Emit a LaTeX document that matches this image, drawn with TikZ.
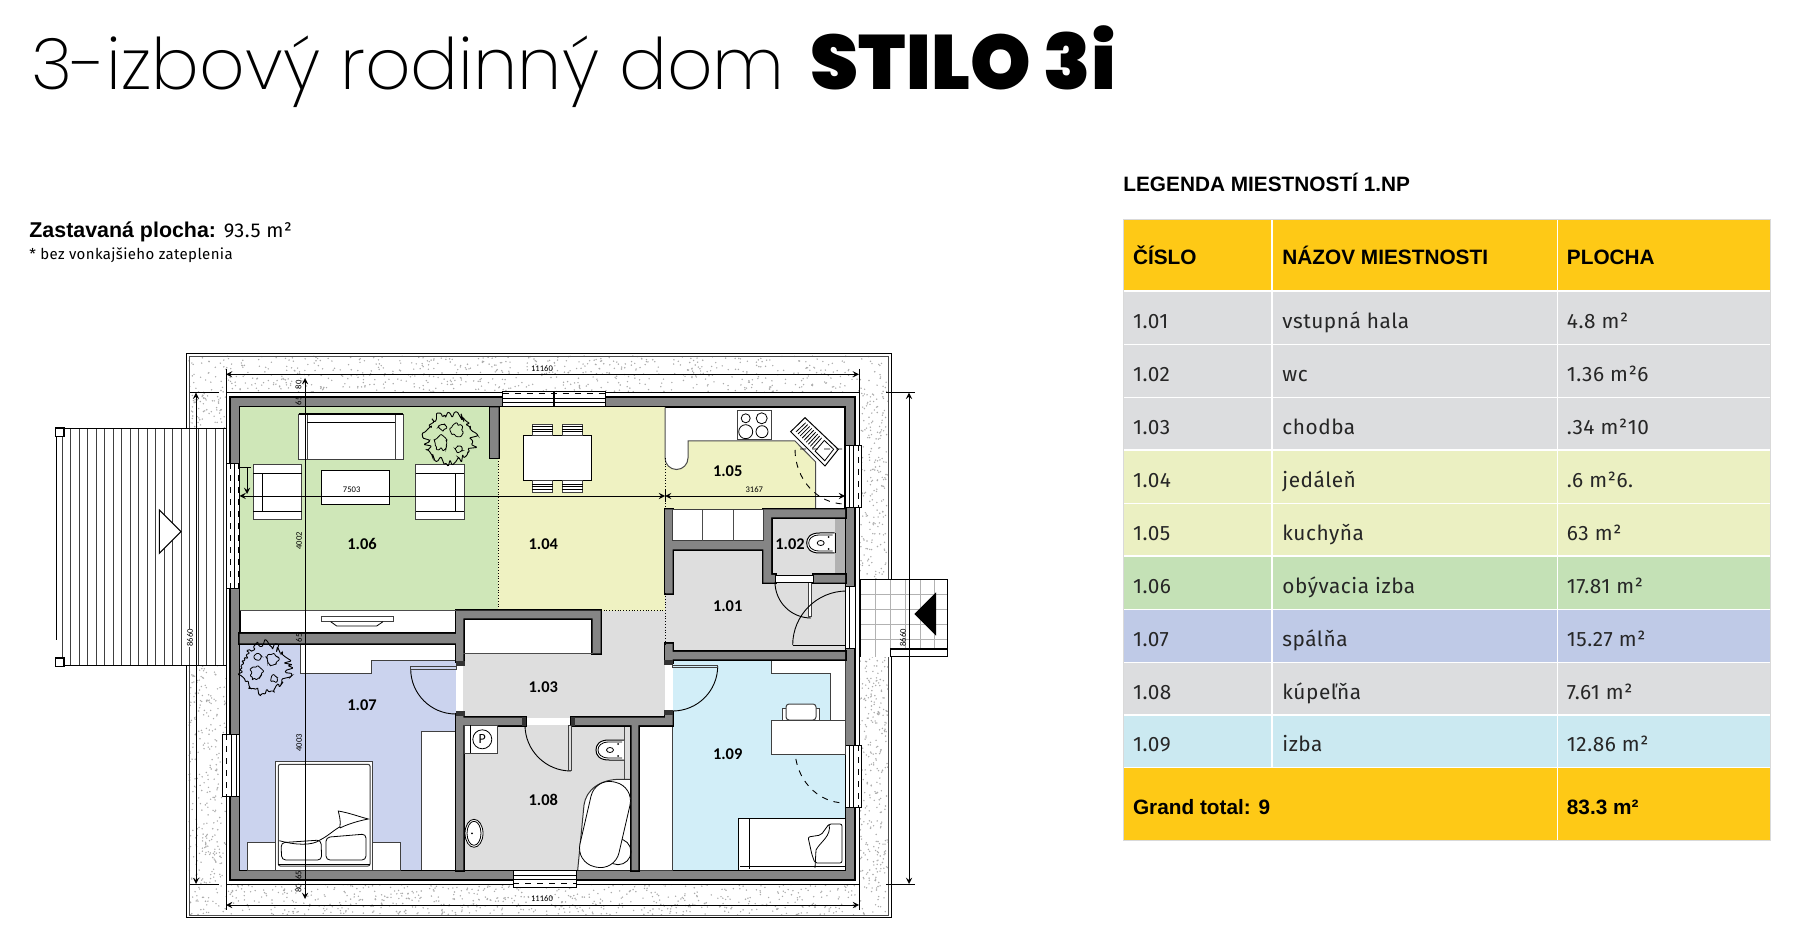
\documentclass[tikz,border=0pt]{standalone}
\usepackage{fontspec}
\setmainfont{Fira Sans}[LetterSpace=2.6]
\newfontfamily\headfont{Liberation Sans}
\newfontfamily\titlefont{Poppins ExtraLight}[BoldFont={Poppins Black}]
\newfontfamily\planfont{Carlito}
\usetikzlibrary{calc}
\definecolor{wallgrey}{HTML}{858585}
\definecolor{gravelgrey}{HTML}{ABABAB}
\definecolor{roomgreen}{HTML}{CFE7B8}
\definecolor{roomyellow}{HTML}{EFF2C2}
\definecolor{roomgrey}{HTML}{DEDEDE}
\definecolor{roomblue}{HTML}{CBD3EE}
\definecolor{roomsky}{HTML}{D2EEF8}
\definecolor{headyellow}{HTML}{FEC916}
\definecolor{rowgrey}{HTML}{DCDDDF}
\definecolor{rowyellow}{HTML}{EBF0C2}
\definecolor{rowgreen}{HTML}{C4E1B6}
\definecolor{rowblue}{HTML}{BFCAE7}
\definecolor{rowsky}{HTML}{CBE9F1}
\newcommand{\wallpieces}{
	(490,407.5) rectangle (498.7,458)
	(239.5,634) rectangle (463.3,643.3)
	(456,610.7) rectangle (463.3,661.7)
	(456,714.5) rectangle (463.3,870)
	(456,610.7) rectangle (600.7,618.3)
	(592.7,610.7) rectangle (600.7,653.3)
	(665,509.3) rectangle (672.7,593.3)
	(665,644) rectangle (672.7,663)
	(665,712) rectangle (672.7,725)
	(463.3,717.7) rectangle (525,725)
	(571.7,717.7) rectangle (672.7,725)
	(672.7,652) rectangle (845,659.3)
	(672.7,541) rectangle (763.3,549.3)
	(763.3,509.3) rectangle (771,582.7)
	(771,509.3) rectangle (845,517.3)
	(813.3,575) rectangle (845,582.7)
	(771,575) rectangle (775,582.7)
	(631.7,725) rectangle (638.3,870)
}
\newcommand{\plantblob}[2]{
	\draw[line width=0.45pt, rounded corners=0.5pt] plot[samples=72, domain=0:355] ({#1+(19+10*rnd)*cos(\x)},{#2+(19+10*rnd)*sin(\x)}) -- cycle;
	\draw[line width=0.4pt, rounded corners=0.4pt] plot[samples=20, domain=0:340] ({#1+7+(4+4*rnd)*cos(\x)},{#2-8+(4+4*rnd)*sin(\x)}) -- cycle;
	\draw[line width=0.4pt, rounded corners=0.4pt] plot[samples=20, domain=0:340] ({#1-9+(4+5*rnd)*cos(\x)},{#2+5+(4+5*rnd)*sin(\x)}) -- cycle;
	\draw[line width=0.4pt, rounded corners=0.4pt] plot[samples=12, domain=0:330] ({#1+9+(2+3*rnd)*cos(\x)},{#2+11+(2+3*rnd)*sin(\x)}) -- cycle;
	\draw[line width=0.4pt, rounded corners=0.4pt] plot[samples=12, domain=0:330] ({#1-7+(2+3*rnd)*cos(\x)},{#2-11+(2+3*rnd)*sin(\x)}) -- cycle;
}
\newcommand{\toiletbowl}[2]{
	\draw[fill=white, line width=0.5pt] (#1+28,#2-10) -- (#1+13,#2-10) .. controls (#1+3,#2-10) and (#1,#2-5) .. (#1,#2) .. controls (#1,#2+5) and (#1+3,#2+10) .. (#1+13,#2+10) -- (#1+28,#2+10);
	\draw[line width=0.4pt] (#1+26,#2-8) -- (#1+13,#2-8) .. controls (#1+5,#2-8) and (#1+2,#2-4) .. (#1+2,#2) .. controls (#1+2,#2+4) and (#1+5,#2+8) .. (#1+13,#2+8) -- (#1+26,#2+8);
	\draw[line width=0.4pt] (#1+14,#2) ellipse [x radius=3.5, y radius=2.5];
	\fill (#1+22,#2-6) circle [radius=1];
	\fill (#1+22,#2+6) circle [radius=1];
}
\begin{document}
\begin{tikzpicture}[x=0.5pt, y=-0.5pt]
	\tikzstyle{roomlabel} = [font=\planfont\bfseries\fontsize{8.2}{9}\selectfont, inner sep=0pt]
	\tikzstyle{dimlabel} = [font=\planfont\fontsize{4.3}{5}\selectfont, inner sep=0pt]
	\tikzstyle{dimline} = [line width=0.4pt, <->, >=stealth]
	\tikzstyle{thinline} = [line width=0.4pt]
	\tikzstyle{furniture} = [fill=white, draw=black!75, line width=0.5pt]
	\tikzstyle{windowbox} = [fill=white, draw=black, line width=0.4pt]
	\tikzstyle{swingline} = [line width=0.45pt]
	\tikzstyle{swingdash} = [line width=0.45pt, dashed]
	\tikzstyle{celltext} = [anchor=base west, inner sep=0pt, font=\fontsize{10.4}{12}\selectfont, text=black!85]
	\tikzstyle{headtext} = [anchor=base west, inner sep=0pt, font=\headfont\bfseries\fontsize{10.4}{12}\selectfont]
	\useasboundingbox (0,0) rectangle (1810,940);
	
	\node[anchor=base west, inner sep=0pt, font=\titlefont\fontsize{35.5}{44}\selectfont] at (31,90) (title) {3-izbový rodinný dom\hspace{3pt} {\fontsize{38.5}{44}\selectfont\bfseries STILO 3i}};
	\node[anchor=base west, inner sep=0pt, font=\fontsize{10}{12}\selectfont] at (29,238) (builtarea) {{\headfont\bfseries\fontsize{10.7}{12}\selectfont Zastavaná plocha:} 93.5 m²};
	\node[anchor=base west, inner sep=0pt, font=\fontsize{7.5}{9}\selectfont] at (29,259.5) (builtnote) {* bez vonkajšieho zateplenia};
	\node[headtext] at (1123,192) (legendtitle) {LEGENDA MIESTNOSTÍ 1.NP};
	
	\fill[headyellow] (1123,219) rectangle (1770.5,291);
	\fill[headyellow] (1123,767.7) rectangle (1770.5,840.3);
	\foreach \ytop/\ybot/\rowcol/\rnum/\rname/\rarea [count=\r] in {
		291/344.3/rowgrey/1.01/vstupná hala/4.8 m²,
		344.3/397.3/rowgrey/1.02/wc/1.36 m²6,
		397.3/450/rowgrey/1.03/chodba/.34 m²10,
		450/503.3/rowyellow/1.04/jedáleň/.6 m²6.,
		503.3/556/rowyellow/1.05/kuchyňa/63 m²,
		556/609.3/rowgreen/1.06/obývacia izba/17.81 m²,
		609.3/662.3/rowblue/1.07/spálňa/15.27 m²,
		662.3/715/rowgrey/1.08/kúpeľňa/7.61 m²,
		715/767.7/rowsky/1.09/izba/12.86 m²}{
		\fill[\rowcol] (1123,\ytop) rectangle (1770.5,\ybot);
		\draw[white, line width=0.6pt] (1272,\ytop) -- (1272,\ybot);
		\node[celltext] at (1132.6,\ybot-15.8) (num\r) {\rnum};
		\node[celltext] at (1282,\ybot-15.8) (name\r) {\rname};
		\node[celltext] at (1566.5,\ybot-15.8) (area\r) {\rarea};
	}
	\foreach \rowline in {291,344.3,397.3,450,503.3,556,609.3,662.3,715,767.7}{
		\draw[white, line width=0.7pt] (1123,\rowline) -- (1770.5,\rowline);
	}
	\draw[white, line width=0.6pt] (1272,219) -- (1272,291);
	\draw[white, line width=0.6pt] (1557.6,219) -- (1557.6,840.3);
	\draw[black!15, line width=0.4pt] (1123,219) rectangle (1770.5,840.3);
	\node[headtext] at (1132.6,265) (headnum) {ČÍSLO};
	\node[headtext] at (1282,265) (headname) {NÁZOV MIESTNOSTI};
	\node[headtext] at (1566.5,265) (headarea) {PLOCHA};
	\node[headtext] at (1132.6,814) (totallabel) {Grand total: 9};
	\node[headtext] at (1566.5,814) (totalarea) {83.3 m²};
	
	\pgfmathsetseed{7}
	\foreach \i in {1,...,700}{
		\pgfmathsetmacro{\gx}{189+699*rnd}
		\pgfmathsetmacro{\gy}{356+37*rnd}
		\fill[gravelgrey] (\gx,\gy) circle [radius=0.8];
	}
	\foreach \i in {1,...,700}{
		\pgfmathsetmacro{\gx}{189+699*rnd}
		\pgfmathsetmacro{\gy}{884+31*rnd}
		\fill[gravelgrey] (\gx,\gy) circle [radius=0.8];
	}
	\foreach \i in {1,...,700}{
		\pgfmathsetmacro{\gx}{189+37*rnd}
		\pgfmathsetmacro{\gy}{393+491*rnd}
		\fill[gravelgrey] (\gx,\gy) circle [radius=0.8];
	}
	\foreach \i in {1,...,560}{
		\pgfmathsetmacro{\gx}{859+29*rnd}
		\pgfmathsetmacro{\gy}{393+491*rnd}
		\fill[gravelgrey] (\gx,\gy) circle [radius=0.8];
	}
	\draw[thinline] (186,353.5) rectangle (891,917.7);
	\draw[line width=0.3pt, black!70] (189,356) rectangle (888,915);
	\draw[thinline, fill=white] (226,392.7) rectangle (859,884);
	
	\draw[line width=0.6pt, fill=wallgrey] (230,397) rectangle (855,880);
	\draw[line width=1pt, fill=white] (239.5,407.5) rectangle (845,870);
	
	\fill[roomgreen] (239.5,407.5) rectangle (498,610.7);
	\fill[roomyellow] (498,407.5) rectangle (665,610.7);
	\fill[roomyellow] (688,441) -- (795,441) -- (815.7,462) -- (815.7,509.3) -- (665,509.3) -- (665,458) arc [start angle=180, end angle=0, radius=11.5] -- cycle;
	\draw[line width=0.5pt, black!70] (665,407.5) -- (665,458) arc [start angle=180, end angle=0, radius=11.5] -- (688,441) -- (795,441) -- (815.7,462) -- (815.7,509.3);
	\fill[roomgrey] (672.7,549.3) rectangle (845,652);
	\fill[roomgrey] (665,593) rectangle (672.7,644);
	\fill[roomgrey] (463.3,653.3) rectangle (665,717.7);
	\fill[roomgrey] (600.7,610.7) rectangle (665,653.3);
	\fill[roomgrey] (771,517.3) rectangle (845,575);
	\fill[roomgrey!80!black] (835,517.3) rectangle (845,575);
	\fill[roomgrey] (463.3,725) rectangle (631.7,870);
	\fill[roomblue] (239.5,643.3) rectangle (456,870);
	\fill[roomsky] (672.7,659.3) rectangle (845,870);
	
	\draw[furniture] (300.7,643.3) -- (456,643.3) -- (456,660.7) -- (371.7,660.7) -- (371.7,673.3) -- (300.7,673.3) -- cycle;
	\draw[furniture] (421.7,870) -- (421.7,731) -- (456,731) -- (456,870);
	\draw[furniture] (771,659.3) -- (771,674) -- (830,674) -- (830,720) -- (845,720) -- (845,659.3) -- cycle;
	\draw[furniture] (638.3,725) rectangle (672.7,870);
	\fill[white] (577.7,870) -- (584,805) .. controls (586,790) and (600,779.3) .. (620,779.3) -- (631.7,779.3) -- (631.7,870) -- cycle;
	\draw[line width=0.5pt, black!80] (577.7,870) -- (584,805) .. controls (586,790) and (600,779.3) .. (620,779.3) -- (631.7,779.3);
	\draw[line width=0.5pt, black!70] (624.3,725) -- (624.3,779.3);
	
	\draw[line width=1.5pt] \wallpieces;
	\fill[wallgrey] \wallpieces;
	\draw[furniture] (672.7,510) rectangle (763.3,541);
	\draw[line width=0.5pt, black!70] (702.3,510) -- (702.3,541);
	\draw[line width=0.5pt, black!70] (733.3,510) -- (733.3,541);
	
	\draw[thinline, densely dotted] (498,458) -- (498,610.7);
	\draw[thinline, densely dotted] (665,458) -- (665,509.3);
	\draw[thinline, densely dotted] (665,593.3) -- (665,644);
	\draw[thinline, densely dotted] (600.7,610.7) -- (665,610.7);
	\draw[thinline, black!70] (239.5,610.7) -- (456,610.7);
	\draw[thinline, black!70] (463.3,653.3) -- (592.7,653.3);
	
	\draw[furniture] (298.7,414.3) rectangle (403.3,460);
	\draw[furniture] (298.7,414.3) rectangle (307,460);
	\draw[furniture] (395,414.3) rectangle (403.3,460);
	\draw[thinline] (307,422.7) -- (395,422.7);
	\draw[line width=0.8pt] (298.7,414.3) -- (403.3,414.3);
	\draw[furniture] (253.3,465) rectangle (301.7,520);
	\draw[thinline] (253.3,473.7) -- (301.7,473.7);
	\draw[thinline] (253.3,511.7) -- (301.7,511.7);
	\draw[thinline] (262.3,473.7) -- (262.3,511.7);
	\draw[furniture] (415.7,465) rectangle (464,520);
	\draw[thinline] (415.7,473.7) -- (464,473.7);
	\draw[thinline] (415.7,511.7) -- (464,511.7);
	\draw[thinline] (455,473.7) -- (455,511.7);
	\draw[furniture, draw=black] (321.3,470.3) rectangle (389.3,504.7);
	\plantblob{450}{438}
	\plantblob{265}{668}
	\draw[furniture] (321,616.7) rectangle (393,621.7);
	\draw[thinline] (330.7,621.7) -- (336.7,626) -- (376.7,626) -- (383,621.7);
	
	\draw[furniture, draw=black] (523.3,435.7) rectangle (591.7,481);
	\foreach \chairx in {532.3,562.3}{
		\draw[furniture] (\chairx,424.3) rectangle ++(20.5,11.4);
		\draw[furniture] (\chairx,481) rectangle ++(20.5,11.7);
		\foreach \rib in {2.5,5,7.5}{
			\draw[line width=0.5pt] (\chairx,424.3+\rib) -- ++(20.5,0);
			\draw[line width=0.5pt] (\chairx,481+\rib+1) -- ++(20.5,0);
		}
	}
	
	\draw[furniture] (737,411) rectangle (771.7,439.3);
	\draw[thinline] (745.7,418.3) circle [radius=4.5];
	\draw[thinline] (761.7,418.3) circle [radius=5.5];
	\draw[thinline] (745.7,431.7) circle [radius=7];
	\draw[thinline] (762,431.7) circle [radius=6];
	
	\coordinate (sinkA) at (805,417.7);
	\coordinate (sinkB) at (838.3,449.3);
	\coordinate (sinkC) at (825,466);
	\coordinate (sinkD) at (790.7,431.7);
	\draw[fill=white, line width=0.5pt] (sinkA) -- (sinkB) -- (sinkC) -- (sinkD) -- cycle;
	\foreach \t in {0.08,0.14,...,0.56}{
		\draw[line width=0.4pt] ($(sinkA)!\t!(sinkB)+(-2,2.5)$) -- ($(sinkD)!\t!(sinkC)+(2.5,-2.5)$);
	}
	\draw[line width=0.4pt] ($(sinkA)!0.64!(sinkB)+(-2,2.5)$) -- ($(sinkA)!0.92!(sinkB)+(-2,2.5)$) -- ($(sinkD)!0.92!(sinkC)+(2.5,-2.5)$) -- ($(sinkD)!0.64!(sinkC)+(2.5,-2.5)$) -- cycle;
	
	\draw[swingdash] (842,449) -- (795,449) arc [start angle=180, end angle=90, x radius=50, y radius=55];
	\draw[swingdash] (845,749) -- (795,749) arc [start angle=180, end angle=90, x radius=50, y radius=54];
	\draw[swingline] (775,582) arc [start angle=180, end angle=90, radius=36];
	\draw[furniture] (808,582.7) rectangle (811.7,617);
	\draw[thinline, fill=white] (775,575) rectangle (813.3,582.7);
	\draw[swingline] (792.7,645) arc [start angle=180, end angle=270, radius=54] ;
	\draw[swingline] (792.7,645) -- (845,645);
	\draw[swingline] (410.7,669) arc [start angle=180, end angle=90, radius=45];
	\draw[furniture, fill=roomblue] (410.7,666.7) rectangle (456,669.3);
	\draw[swingline] (717.7,666) arc [start angle=0, end angle=90, radius=45];
	\draw[furniture, fill=roomsky] (672.7,665.7) rectangle (717.7,668);
	\draw[swingline] (525,725) arc [start angle=180, end angle=90, radius=46];
	\draw[furniture, fill=roomgrey] (568.3,725) rectangle (571,770);
	
	\draw[windowbox] (502.7,391) rectangle (605,406.7);
	\draw[thinline, dashed] (502.7,393.6) -- (605,393.6);
	\draw[thinline] (502.7,398) -- (605,398);
	\draw[thinline] (502.7,402) -- (605,402);
	\draw[line width=0.6pt] (554,391) -- (554,406.7);
	\draw[windowbox] (513.3,870.7) rectangle (576,887);
	\draw[thinline] (513.3,875) -- (576,875);
	\draw[thinline] (513.3,879) -- (576,879);
	\draw[thinline, dashed] (513.3,883.5) -- (576,883.5);
	\draw[windowbox] (222.7,734.3) rectangle (239.5,796.7);
	\draw[thinline, dashed] (226,734.3) -- (226,796.7);
	\draw[thinline] (231,734.3) -- (231,796.7);
	\draw[thinline] (236,734.3) -- (236,796.7);
	\draw[windowbox] (226,463.3) rectangle (239.5,588.7);
	\draw[thinline, dashed] (230,463.3) -- (230,588.7);
	\draw[thinline] (234,463.3) -- (234,588.7);
	\draw[thinline, dashed] (238,463.3) -- (238,588.7);
	\draw[windowbox] (845,445) rectangle (861.7,507.7);
	\draw[thinline] (849,445) -- (849,507.7);
	\draw[thinline] (853,445) -- (853,507.7);
	\draw[thinline, dashed] (858.5,445) -- (858.5,507.7);
	\draw[windowbox] (845,745) rectangle (861.7,807.7);
	\draw[thinline] (849,745) -- (849,807.7);
	\draw[thinline] (853,745) -- (853,807.7);
	\draw[thinline, dashed] (858.5,745) -- (858.5,807.7);
	\draw[windowbox] (845,586.7) rectangle (855,648);
	\draw[thinline] (849,586.7) -- (849,648);
	\fill[black!80] (456,661) rectangle (465,666);
	\fill[black!80] (456,711) rectangle (465,716);
	\fill[black!80] (664,660) rectangle (673,665);
	\fill[black!80] (664,710) rectangle (673,715);
	\fill[black!80] (522,717) rectangle (526,726);
	\fill[black!80] (571,717) rectangle (575,726);
	
	\draw[furniture] (464,725) rectangle (497.3,753.3);
	\draw[thinline] (470,725) -- (470,753.3);
	\draw[thinline, fill=white] (482.3,739.3) circle [radius=9.5];
	\node[font=\planfont\fontsize{7}{8}\selectfont, inner sep=0pt] at (482.3,739.3) (washer) {P};
	\draw[thinline, fill=white] (474,833.3) ellipse [x radius=9, y radius=14];
	\draw[thinline] (474,833.3) ellipse [x radius=7, y radius=12];
	\fill (472,833.3) circle [radius=1];
	\toiletbowl{806.7}{543}
	\toiletbowl{596}{750}
	\draw[thinline] (835,533) -- (835,553);
	\draw[thinline] (618,851.7) circle [radius=13];
	\draw[thinline, fill=white, rounded corners=9.5pt, rotate around={-13:(605,824.5)}] (585,781) rectangle (625,868);
	
	\draw[furniture] (247,842.7) rectangle (400.7,870);
	\draw[furniture] (275.7,761.7) rectangle (372.3,870);
	\draw[furniture, rounded corners=1pt] (278.3,764.3) rectangle (370,866);
	\draw[thinline, fill=white] (279.3,840.7) .. controls (295,845) and (312,846) .. (320,840) .. controls (328,836) and (334,830) .. (340,826.7) .. controls (341,820) and (339,815) .. (338.3,811) .. controls (350,813) and (360,817) .. (368.3,819) .. controls (358,821) and (348,824) .. (340,828);
	\draw[thinline, rounded corners=2pt] (281,842.7) -- (321,840) -- (321.7,860) -- (281.7,860) -- cycle;
	\draw[thinline, rounded corners=2pt] (326,837.3) -- (366,834) -- (366,860) -- (326,860) -- cycle;
	\draw[thinline] (278.3,864) -- (370,864);
	
	\draw[furniture] (782.7,708) rectangle (819.3,720);
	\draw[furniture, rounded corners=1.5pt] (786,704) rectangle (816,720);
	\draw[furniture] (771,720) rectangle (845,754.3);
	\draw[furniture, draw=black] (738.7,818.3) rectangle (845,870);
	\draw[thinline] (749,819) -- (749,869);
	\draw[thinline] (740,866) -- (845,866);
	\draw[thinline, rounded corners=1pt] (808,837) -- (821,835) -- (829,824) -- (842,824) -- (842,863) -- (815,863) -- (812,855) -- cycle;
	\draw[thinline] (829,824) .. controls (832,836) and (820,842) .. (816,850) -- (815,868);
	
	\draw[thinline] (226,369) -- (226,393);
	\draw[thinline] (859,369) -- (859,393);
	\draw[dimline] (226,374.3) -- (859,374.3);
	\node[dimlabel] at (542,369) (dimtop) {11160};
	\draw[thinline] (226,884) -- (226,910);
	\draw[thinline] (859,884) -- (859,910);
	\draw[dimline] (226,905) -- (859,905);
	\node[dimlabel] at (542,899) (dimbottom) {11160};
	\draw[thinline] (239.5,490) -- (239.5,496);
	\draw[dimline] (239.5,496) -- (665,496);
	\draw[dimline] (665,496) -- (845,496);
	\draw[thinline] (665,490) -- (665,502);
	\node[dimlabel] at (351.7,490) (dimliving) {7503};
	\node[dimlabel] at (754.3,490) (dimkitchen) {3167};
	\draw[thinline, <-, >=stealth] (247,494) -- (247,467);
	\draw[thinline] (239.5,467) -- (251,467);
	\draw[dimline] (305,378) -- (305,899);
	\node[dimlabel, rotate=90] at (298.5,385) (dimv1) {80};
	\node[dimlabel, rotate=90] at (298.5,401) (dimv2) {65};
	\node[dimlabel, rotate=90] at (299,540.7) (dimv3) {4002};
	\node[dimlabel, rotate=90] at (299,638) (dimv4) {65};
	\node[dimlabel, rotate=90] at (299,743) (dimv5) {4003};
	\node[dimlabel, rotate=90] at (298.5,875) (dimv6) {65};
	\node[dimlabel, rotate=90] at (298.5,888) (dimv7) {80};
	
	\fill[white] (56,428.3) rectangle (226,666);
	\foreach \plank in {62,70.5,...,226}{
		\draw[line width=0.4pt, black!75] (\plank,428.3) -- (\plank,666);
	}
	\draw[line width=0.5pt] (56,428.3) -- (226,428.3);
	\draw[line width=0.5pt] (56,666) -- (226,666);
	\draw[line width=0.5pt] (56,436) -- (56,640);
	\draw[line width=0.8pt, fill=white] (55.5,428) rectangle (64,436.7);
	\draw[line width=0.8pt, fill=white] (55.5,658) rectangle (64,666.5);
	\draw[fill=white, line width=0.5pt] (159.3,510) -- (181,531.7) -- (159.3,553.3) -- cycle;
	
	\draw[thinline] (190,392.7) -- (218.7,392.7);
	\draw[thinline] (190,884) -- (218.7,884);
	\draw[dimline] (196,392.7) -- (196,884);
	\node[dimlabel, rotate=90, fill=white] at (190,638) (dimleft) {8660};
	
	\fill[white] (860,579.3) rectangle (947.7,656.7);
	\foreach \gridx in {875,890,905,920,934}{
		\draw[line width=0.5pt, black!30] (\gridx,579.3) -- (\gridx,656.7);
	}
	\foreach \gridy in {594.7,610,625,640}{
		\draw[line width=0.5pt, black!30] (860,\gridy) -- (947.7,\gridy);
	}
	\draw[line width=0.4pt] (860,656.7) -- (860,579.3) -- (947.7,579.3) -- (947.7,656.7);
	\fill (936,592.3) -- (914.3,614) -- (936,635.7) -- cycle;
	\draw[line width=0.7pt, fill=white] (890.7,649) rectangle (947.7,656.7);
	
	\draw[thinline] (886,392.7) -- (915,392.7);
	\draw[thinline] (886,884) -- (915,884);
	\draw[dimline] (909,392.7) -- (909,884);
	\node[dimlabel, rotate=90] at (903,638) (dimright) {8660};
	
	\node[roomlabel] at (727.7,605.7) (room101) {1.01};
	\node[roomlabel] at (790,544.3) (room102) {1.02};
	\node[roomlabel] at (543.3,686.7) (room103) {1.03};
	\node[roomlabel] at (543.3,544) (room104) {1.04};
	\node[roomlabel] at (727.7,470.7) (room105) {1.05};
	\node[roomlabel] at (362,544) (room106) {1.06};
	\node[roomlabel] at (362,704.7) (room107) {1.07};
	\node[roomlabel] at (543.3,800.3) (room108) {1.08};
	\node[roomlabel] at (727.7,754.3) (room109) {1.09};
\end{tikzpicture}
\end{document}
